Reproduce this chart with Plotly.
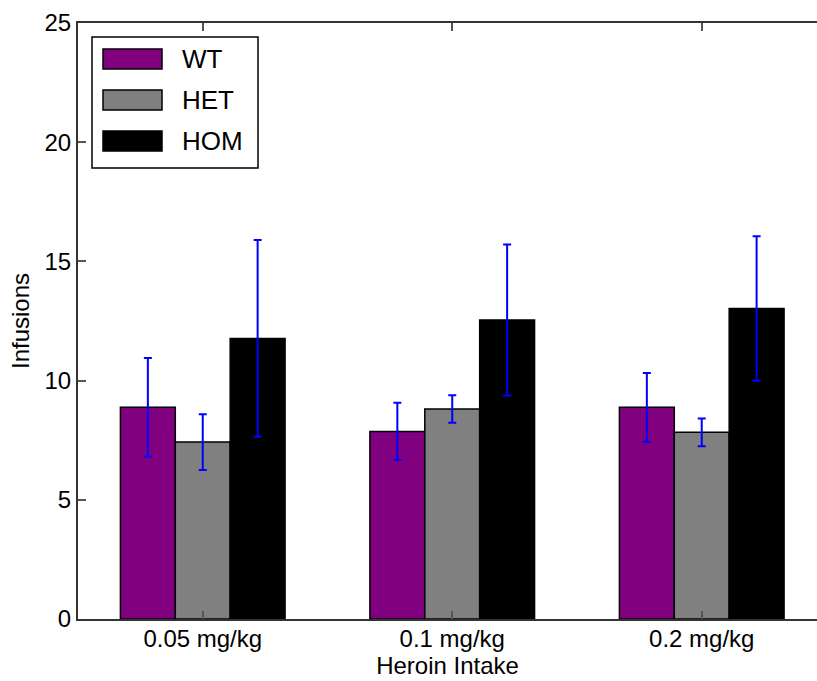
import plotly.graph_objects as go

categories = ["0.05 mg/kg", "0.1 mg/kg", "0.2 mg/kg"]
series_names = ["WT", "HET", "HOM"]
series_colors = ["#800080", "#808080", "#000000"]
wt_values = [8.88, 7.87, 8.88]
wt_errors = [2.07, 1.20, 1.44]
het_values = [7.42, 8.81, 7.83]
het_errors = [1.17, 0.58, 0.58]
hom_values = [11.77, 12.54, 13.02]
hom_errors = [4.13, 3.17, 3.03]
y_ticks = [0, 5, 10, 15, 20, 25]

values = [wt_values, het_values, hom_values]
errors = [wt_errors, het_errors, hom_errors]

FONT = "Liberation Sans, Arial, sans-serif"
W, H = 817, 681
ML, MR, MT, MB = 78, 0, 23, 62

fig = go.Figure()
for name, color, v, e in zip(series_names, series_colors, values, errors):
    fig.add_trace(go.Bar(
        x=categories, y=v, name=name,
        marker=dict(color=color, line=dict(color="black", width=1.5)),
        error_y=dict(type="data", array=e, visible=True, color="#0000FF",
                     thickness=2, width=4),
        showlegend=False,
    ))

# manual legend (matplotlib-style box)
pw = W - ML - MR
ph = H - MT - MB
def px(x):
    return (x - ML) / pw
def py(y):
    return (H - MB - y) / ph

shapes = [dict(type="rect", xref="paper", yref="paper",
               x0=px(92), x1=px(258), y0=py(168), y1=py(37),
               line=dict(color="black", width=1.5), fillcolor="white", layer="above")]
annotations = []
row_centers = [59, 100, 141]
for name, color, yc in zip(series_names, series_colors, row_centers):
    shapes.append(dict(type="rect", xref="paper", yref="paper",
                       x0=px(103), x1=px(162), y0=py(yc + 10), y1=py(yc - 10),
                       line=dict(color="black", width=1.5), fillcolor=color, layer="above"))
    annotations.append(dict(xref="paper", yref="paper", x=px(180), y=py(yc),
                            xanchor="left", yanchor="middle", text=name, showarrow=False,
                            font=dict(family=FONT, size=26, color="black")))

fig.update_layout(
    width=W, height=H,
    margin=dict(l=ML, r=MR, t=MT, b=MB, pad=0),
    paper_bgcolor="white", plot_bgcolor="white",
    barmode="group", bargap=0.34, bargroupgap=0,
    font=dict(family=FONT, size=24, color="black"),
    shapes=shapes, annotations=annotations,
    xaxis=dict(
        range=[-0.5, 2.462], showgrid=False, zeroline=False,
        showline=True, linecolor="#333333", linewidth=2, mirror="ticks",
        ticks="inside", ticklen=8, tickcolor="#555555", tickwidth=1.5,
        tickfont=dict(family=FONT, size=24), ticklabelstandoff=-3,
        title=dict(text="Heroin Intake", font=dict(family=FONT, size=24), standoff=4),
    ),
    yaxis=dict(
        range=[0, 25], tickvals=y_ticks, showgrid=False, zeroline=False,
        showline=True, linecolor="#333333", linewidth=2,
        ticks="inside", ticklen=8, tickcolor="#555555", tickwidth=1.5,
        tickfont=dict(family=FONT, size=24),
        title=dict(text="Infusions", font=dict(family=FONT, size=24), standoff=8),
    ),
)

fig.write_html("out.html")
